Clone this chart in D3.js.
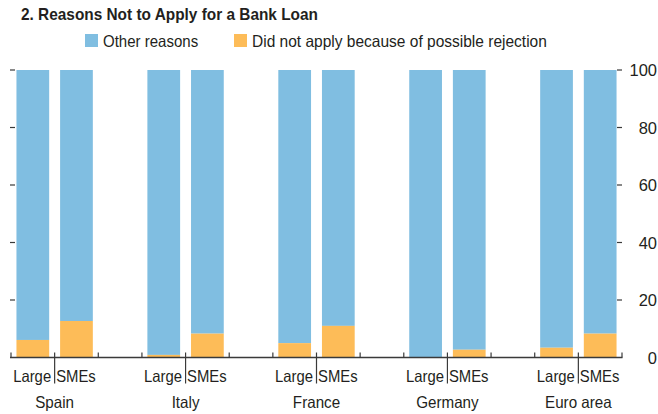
<!DOCTYPE html>
<html>
<head>
<meta charset="utf-8">
<script src="https://cdn.jsdelivr.net/npm/d3@7"></script>
<style>
  body { margin: 0; background: #fff; }
  svg text { font-family: "Liberation Sans Narrow", "Arial Narrow", "Liberation Sans", sans-serif; fill: #231f20; }
</style>
</head>
<body>
<svg id="chart" width="658" height="414"></svg>
<script>
// data
const countries = ["Spain", "Italy", "France", "Germany", "Euro area"]
const firmTypes = ["Large", "SMEs"]
const rejection = [6.1, 12.7, 0.9, 8.3, 5.0, 11.0, 0.0, 2.7, 3.4, 8.3]
const seriesNames = ["Other reasons", "Did not apply because of possible rejection"]
const yTicks = [0, 20, 40, 60, 80, 100]

const colBlue = "#80bee1"
const colOrange = "#fdbc58"

const svg = d3.select("#chart")
const plotL = 11, plotR = 622, plotT = 70, plotB = 357.5

// squeeze text a bit, the original font is a condensed one
function condense(sel, k){
  sel.each(function(){
    let len = this.getComputedTextLength()
    d3.select(this).attr("textLength", len * k).attr("lengthAdjust", "spacingAndGlyphs")
  })
}

// slots: Large, SMEs, blank for each country (last has no blank)
let slots = []
countries.forEach(function(c, i){
  firmTypes.forEach(function(f, j){
    slots.push(c + "|" + f)
  })
  if (i < countries.length - 1) slots.push("gap" + i)
})

const x = d3.scaleBand().domain(slots).range([plotL, plotR]).paddingInner(0.25).paddingOuter(0.125)
const step = x.step()
const y = d3.scaleLinear().domain([0, 100]).range([plotB, plotT])

let rows = []
countries.forEach(function(c, i){
  firmTypes.forEach(function(f, j){
    let v = rejection[i * 2 + j]
    rows.push({key: c + "|" + f, country: c, firm: f, rej: v, other: 100 - v, div: plotL + (i * 3 + 1) * step})
  })
})

// bars
const g = svg.append("g")
g.selectAll("rect.other").data(rows).enter().append("rect")
  .attr("x", d => x(d.key))
  .attr("width", x.bandwidth())
  .attr("y", d => y(100))
  .attr("height", d => y(d.rej) - y(100))
  .attr("fill", colBlue)
g.selectAll("rect.rej").data(rows).enter().append("rect")
  .attr("x", d => x(d.key))
  .attr("width", x.bandwidth())
  .attr("y", d => y(d.rej))
  .attr("height", d => y(0) - y(d.rej))
  .attr("fill", colOrange)

// y ticks both sides
const lineCol = "#3a3a3a"
yTicks.filter(t => t > 0).forEach(function(t){
  svg.append("line").attr("x1", plotL - 1).attr("x2", plotL + 4).attr("y1", y(t)).attr("y2", y(t))
    .attr("stroke", lineCol).attr("stroke-width", 1.2)
  svg.append("line").attr("x1", plotR - 5).attr("x2", plotR).attr("y1", y(t)).attr("y2", y(t))
    .attr("stroke", lineCol).attr("stroke-width", 1.2)
})
svg.selectAll("text.ytick").data(yTicks).enter().append("text")
  .attr("x", 657).attr("y", d => y(d) + 6)
  .attr("text-anchor", "end")
  .attr("font-size", 16.5)
  .text(d => d)

// x axis
svg.append("line").attr("x1", plotL - 1).attr("x2", plotR + 0.5).attr("y1", plotB).attr("y2", plotB)
  .attr("stroke", lineCol).attr("stroke-width", 1.3)
d3.range(slots.length + 1).forEach(function(i){
  let xx = plotL + i * step
  let isDiv = (i % 3 === 1)
  svg.append("line").attr("x1", xx).attr("x2", xx)
    .attr("y1", plotB - 5).attr("y2", isDiv ? plotB + 26 : plotB)
    .attr("stroke", lineCol).attr("stroke-width", 1.2)
})

// category labels
svg.selectAll("text.firm").data(rows).enter().append("text")
  .attr("x", d => d.firm === "Large" ? d.div - 3.5 : d.div + 1.5)
  .attr("y", 382)
  .attr("text-anchor", d => d.firm === "Large" ? "end" : "start")
  .attr("font-size", 16.5)
  .text(d => d.firm)
  .call(condense, 0.9)
svg.selectAll("text.country").data(countries).enter().append("text")
  .attr("x", (d, i) => plotL + (i * 3 + 1) * step)
  .attr("y", 408)
  .attr("text-anchor", "middle")
  .attr("font-size", 16.5)
  .text(d => d)
  .call(condense, 0.92)

// title
svg.append("text").attr("x", 21).attr("y", 20)
  .attr("font-size", 17).attr("font-weight", "bold")
  .text("2. Reasons Not to Apply for a Bank Loan")
  .call(condense, 0.905)

// legend
const legX = [85, 234]
seriesNames.forEach(function(s, i){
  svg.append("rect").attr("x", legX[i]).attr("y", 34).attr("width", 13).attr("height", 13)
    .attr("fill", i === 0 ? colBlue : colOrange)
  svg.append("text").attr("x", legX[i] + 18).attr("y", 47).attr("font-size", 16.5).text(s)
    .call(condense, i === 0 ? 0.91 : 0.94)
})
</script>
</body>
</html>
